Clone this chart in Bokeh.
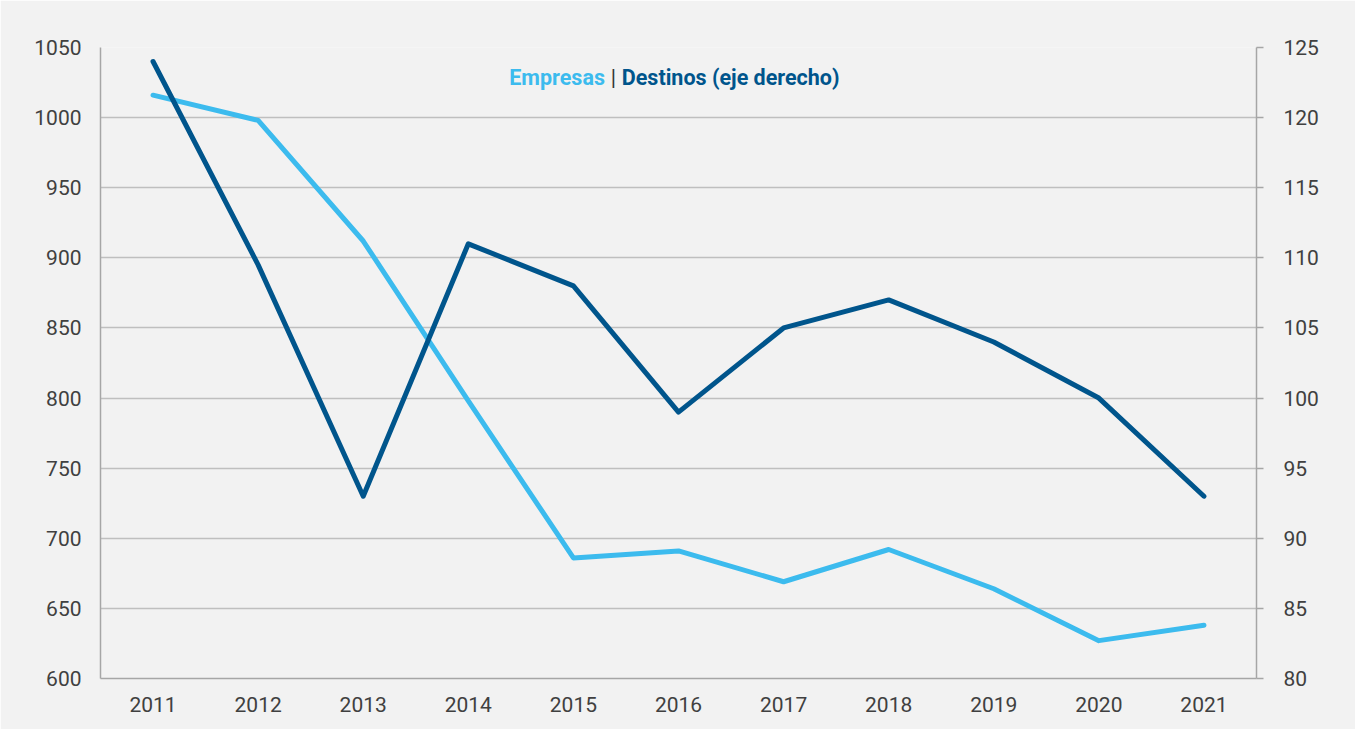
from bokeh.plotting import figure
from bokeh.models import Range1d, LinearAxis, FixedTicker, Label
from bokeh.embed import file_html
from bokeh.resources import INLINE

years = [2011, 2012, 2013, 2014, 2015, 2016, 2017, 2018, 2019, 2020, 2021]
empresas = [1016, 998, 912, 798, 686, 691, 669, 692, 664, 627, 638]
destinos = [124, 109.5, 93, 111, 108, 99, 105, 107, 104, 100, 93]
left_ticks = [600, 650, 700, 750, 800, 850, 900, 950, 1000, 1050]
right_ticks = [80, 85, 90, 95, 100, 105, 110, 115, 120, 125]

BG = "#f2f2f2"
LIGHT = "#3cbbee"
DARK = "#00558c"
AXIS = "#a6a6a6"
GRID = "#bfbfbf"
TXT = "#404040"
FONT = "Roboto"
TICK_SIZE = "21px"
TITLE_SIZE = "21.5px"

p = figure(width=1355, height=729, output_backend="svg", toolbar_location=None,
           x_range=Range1d(2010.5, 2021.5), y_range=Range1d(600, 1050),
           min_border_left=100, min_border_right=99, min_border_top=47, min_border_bottom=51,
           background_fill_color=BG, border_fill_color=BG, outline_line_color=None)
p.extra_y_ranges = {"right": Range1d(80, 125)}

p.line(years, empresas, line_color=LIGHT, line_width=5, line_join="round", line_cap="round")
p.line(years, destinos, line_color=DARK, line_width=5, line_join="round", line_cap="round",
       y_range_name="right")

# x axis
xa = p.xaxis[0]
xa.ticker = FixedTicker(ticks=years)
xa.major_label_overrides = {y: str(y) for y in years}
xa.major_tick_line_color = None
xa.minor_tick_line_color = None
xa.axis_line_color = AXIS
xa.axis_line_width = 1.5
xa.major_label_text_font = FONT
xa.major_label_text_font_size = TICK_SIZE
xa.major_label_text_color = TXT
xa.major_label_standoff = 12

# left axis
ya = p.yaxis[0]
ya.ticker = FixedTicker(ticks=left_ticks)
ya.major_tick_line_color = None
ya.minor_tick_line_color = None
ya.axis_line_color = AXIS
ya.axis_line_width = 1.5
ya.major_label_text_font = FONT
ya.major_label_text_font_size = TICK_SIZE
ya.major_label_text_color = TXT
ya.major_label_standoff = 13

# right axis
ra = LinearAxis(y_range_name="right", ticker=FixedTicker(ticks=right_ticks))
ra.major_tick_line_color = AXIS
ra.major_tick_line_width = 1.5
ra.major_tick_in = 0
ra.major_tick_out = 7
ra.minor_tick_line_color = None
ra.axis_line_color = AXIS
ra.axis_line_width = 1.5
ra.major_label_text_font = FONT
ra.major_label_text_font_size = TICK_SIZE
ra.major_label_text_color = TXT
ra.major_label_standoff = 20
p.add_layout(ra, "right")

p.xgrid.grid_line_color = None
p.ygrid.ticker = FixedTicker(ticks=left_ticks)
p.ygrid.grid_line_color = GRID
p.ygrid.grid_line_width = 1.5

# legend-like title
ty = 1028.6
p.add_layout(Label(x=2015.38, y=ty, text="|", text_align="center", text_baseline="middle",
                   text_font=FONT, text_font_size=TITLE_SIZE, text_color="#333333"))
p.add_layout(Label(x=2015.30, y=ty, text="Empresas", text_align="right", text_baseline="middle",
                   text_font=FONT, text_font_size=TITLE_SIZE, text_font_style="bold", text_color=LIGHT))
p.add_layout(Label(x=2015.46, y=ty, text="Destinos (eje derecho)", text_align="left",
                   text_baseline="middle", text_font=FONT, text_font_size=TITLE_SIZE,
                   text_font_style="bold", text_color=DARK))

open("out.html", "w").write(file_html(p, INLINE))
